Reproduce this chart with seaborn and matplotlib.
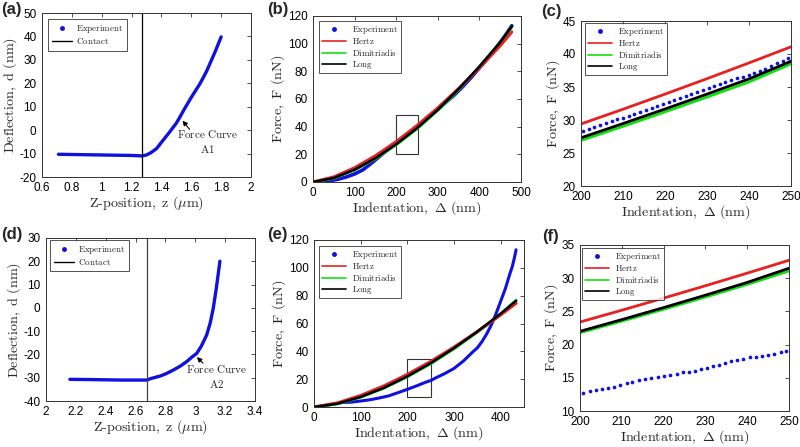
import numpy as np
import pandas as pd
import matplotlib
matplotlib.use("Agg")
import matplotlib.pyplot as plt
from matplotlib.lines import Line2D
from matplotlib.patches import Rectangle
import seaborn as sns

# ---------------- data ----------------
# (a) force curve A1
z_a = [0.71, 0.80, 0.90, 1.00, 1.10, 1.20, 1.27, 1.30, 1.33, 1.367, 1.40, 1.45, 1.50, 1.524,
       1.55, 1.60, 1.658, 1.70, 1.725, 1.76, 1.80]
d_a = [-10.3, -10.4, -10.5, -10.6, -10.7, -10.8, -11.0, -10.6, -9.6, -7.9, -5.2, -1.2, 3.0, 5.6,
       8.6, 14.0, 19.8, 24.8, 28.4, 33.5, 39.8]
contact_a = 1.273

# (d) force curve A2
z_d = [2.16, 2.30, 2.40, 2.50, 2.60, 2.677, 2.70, 2.764, 2.80, 2.853, 2.90, 2.942, 2.98, 3.009,
       3.04, 3.076, 3.10, 3.12, 3.14, 3.165]
d_d = [-30.7, -30.8, -30.9, -31.0, -31.0, -31.0, -30.4, -29.3, -28.4, -26.7, -25.0, -23.1, -21.0, -19.6,
       -16.5, -11.7, -6.5, -0.3, 8.0, 20.0]
contact_d = 2.677

# (b) indentation curve A1
delta_b = [0, 50, 100, 150, 200, 250, 300, 350, 400, 450, 478]
hertz_b = [0, 3.65, 10.3, 18.95, 29.2, 40.8, 53.6, 67.6, 82.5, 98.5, 108.5]
dimi_b = [0, 2.8, 8.7, 16.9, 26.9, 38.5, 51.8, 66.8, 83.2, 100.7, 112.3]
long_b = [0, 2.9, 8.9, 17.2, 27.3, 38.9, 52.2, 67.2, 83.5, 101.0, 112.5]
exp_delta_b = [0, 20, 40, 60, 80, 100, 120, 140, 160, 180, 200, 220, 240, 250, 260, 280, 300,
               320, 340, 360, 380, 400, 420, 440, 460, 478]
exp_force_b = [0, 0.2, 0.9, 2.0, 3.6, 5.8, 8.8, 13.5, 18.5, 23.5, 28.3, 32.7, 37.1, 39.6, 42.3,
               47.5, 52.5, 57.8, 63.0, 69.0, 75.5, 82.5, 89.5, 97.0, 105.0, 113.0]

# (c) zoom of (b)
delta_c = [200, 210, 220, 230, 240, 250]
hertz_c = [29.4, 31.63, 33.92, 36.26, 38.65, 41.09]
dimi_c = [26.9, 29.04, 31.23, 33.47, 35.76, 38.5]
long_c = [27.3, 29.46, 31.66, 33.92, 36.22, 38.9]
exp_delta_c = [200.5, 201.9, 203.2, 204.6, 205.9, 207.3, 208.6, 210.0, 211.4, 212.7, 214.1, 215.4,
               216.8, 218.1, 219.5, 220.9, 222.2, 223.6, 224.9, 226.3, 227.6, 229.0, 230.4, 231.7,
               233.1, 234.4, 235.8, 237.1, 238.5, 239.9, 241.2, 242.6, 243.9, 245.3, 246.6, 248.0, 249.4]
exp_force_c = [28.3, 28.6, 28.9, 29.2, 29.5, 29.8, 30.1, 30.3, 30.6, 30.9, 31.2, 31.5,
               31.8, 32.1, 32.4, 32.7, 33.0, 33.3, 33.6, 33.9, 34.2, 34.5, 34.8, 35.1,
               35.4, 35.7, 36.0, 36.3, 36.5, 36.8, 37.1, 37.5, 37.8, 38.2, 38.6, 39.0, 39.4]

# (e) indentation curve A2
delta_e = [0, 50, 100, 150, 200, 250, 300, 350, 400, 433]
hertz_e = [0, 2.93, 8.27, 15.2, 23.4, 32.7, 43.0, 54.2, 66.2, 74.5]
dimi_e = [0, 2.3, 7.1, 13.6, 21.8, 31.1, 41.9, 53.8, 66.8, 76.6]
long_e = [0, 2.36, 7.21, 13.8, 22.0, 31.5, 42.3, 54.2, 67.1, 76.3]
exp_delta_e = [0, 20, 40, 60, 80, 100, 120, 140, 160, 180, 200, 220, 240, 250, 260, 280, 300,
               320, 340, 350, 360, 370, 380, 390, 400, 410, 420, 425, 430, 433]
exp_force_e = [0, 0.6, 2.0, 3.2, 3.5, 4.3, 5.2, 6.5, 8.0, 10.3, 12.7, 15.2, 17.9, 19.0, 20.8,
               24.0, 27.7, 33.0, 39.5, 42.5, 47.0, 52.5, 59.0, 67.0, 76.0, 85.0, 96.0, 101.0, 108.0, 113.0]

# (f) zoom of (e)
delta_f = [200, 210, 220, 230, 240, 250]
hertz_f = [23.4, 25.18, 27.0, 28.86, 30.76, 32.7]
dimi_f = [21.8, 23.53, 25.32, 27.16, 29.06, 31.1]
long_f = [22.0, 23.76, 25.57, 27.44, 29.36, 31.5]
exp_delta_f = [200.8, 202.4, 203.8, 205.3, 206.8, 208.2, 209.6, 211.2, 212.5, 214.1, 215.6, 217.1,
               218.7, 220.2, 221.6, 223.1, 224.7, 226.1, 227.5, 228.9, 230.4, 231.8, 233.3, 234.7,
               236.1, 237.6, 239.1, 240.6, 242.0, 243.5, 245.0, 246.5, 248.0, 249.4]
exp_force_f = [12.76, 12.96, 13.1, 13.3, 13.46, 13.66, 13.96, 14.27, 14.42, 14.6, 14.8, 14.9,
               15.1, 15.3, 15.4, 15.6, 15.8, 15.9, 16.07, 16.27, 16.48, 16.73, 16.97, 17.23,
               17.48, 17.68, 17.88, 18.08, 18.18, 18.28, 18.48, 18.63, 18.83, 19.03]

legend_ab = ["Experiment", "Contact"]
legend_models = ["Experiment", "Hertz", "Dimitriadis", "Long"]

# ---------------- style ----------------
sns.set_style("white")
plt.rcParams["mathtext.fontset"] = "cm"
plt.rcParams["font.family"] = ["Liberation Sans", "DejaVu Sans"]
plt.rcParams["axes.unicode_minus"] = False

BLUE = "#1010e0"
RED = "#e82020"
GREEN = "#10e010"
BLACK = "black"
SPINE = "0.2"

fig = plt.figure(figsize=(8.0, 4.47), dpi=100)
W, H = 800.0, 447.0


def add_ax(l, t, r, b):
    return fig.add_axes([l / W, 1 - b / H, (r - l) / W, (b - t) / H])


def style_ax(ax, xlim, ylim, xticks, yticks, xlabel, ylabel):
    ax.set_xlim(*xlim)
    ax.set_ylim(*ylim)
    ax.set_xticks(xticks)
    ax.set_yticks(yticks)
    ax.set_xticklabels([f"{t:g}" for t in xticks])
    ax.set_yticklabels([f"{t:g}" for t in yticks])
    ax.tick_params(direction="in", length=3, width=0.6, top=True, right=True,
                   labelsize=8.5, colors=SPINE, labelcolor="black")
    ax.tick_params(axis="x", pad=3.3)
    ax.tick_params(axis="y", pad=4)
    for s in ax.spines.values():
        s.set_color(SPINE)
        s.set_linewidth(0.7)
    ax.set_xlabel(xlabel, fontsize=10.2, labelpad=0.3)
    ax.set_ylabel(ylabel, fontsize=10.2, labelpad=0.5)


XL_Z = r"$\mathrm{Z\text{-}position,\ z\ (}\mu\mathrm{m)}$"
YL_D = r"$\mathrm{Deflection,\ d\ (nm)}$"
XL_I = r"$\mathrm{Indentation,}\ \Delta\ \mathrm{(nm)}$"
YL_F = r"$\mathrm{Force,\ F\ (nN)}$"


def legend_contact(ax, anchor):
    h = [Line2D([], [], color=BLUE, marker="o", ms=2.5, lw=0),
         Line2D([], [], color=BLACK, lw=1.0)]
    lab = [r"$\mathrm{%s}$" % s for s in legend_ab]
    lg = ax.legend(h, lab, loc="upper left", bbox_to_anchor=anchor, borderaxespad=0,
                   fontsize=6.5, frameon=True, fancybox=False, handlelength=2.2,
                   borderpad=0.45, labelspacing=0.15, handletextpad=0.4)
    lg.get_frame().set_edgecolor("0.15")
    lg.get_frame().set_linewidth(0.7)


def legend_models_f(ax, anchor):
    h = [Line2D([], [], color=BLUE, marker="o", ms=2.5, lw=0),
         Line2D([], [], color=RED, lw=1.2),
         Line2D([], [], color=GREEN, lw=1.2),
         Line2D([], [], color=BLACK, lw=1.2)]
    lab = [r"$\mathrm{%s}$" % s for s in legend_models]
    lg = ax.legend(h, lab, loc="upper left", bbox_to_anchor=anchor, borderaxespad=0,
                   fontsize=6.3, frameon=True, fancybox=False, handlelength=2.8,
                   borderpad=0.3, labelspacing=0.08, handletextpad=0.7)
    lg.get_frame().set_edgecolor("0.15")
    lg.get_frame().set_linewidth(0.7)


# ---------- (a) ----------
ax = add_ax(42, 13, 251, 177)
sns.lineplot(x=z_a, y=d_a, ax=ax, color=BLUE, lw=2.4, sort=False)
ax.axvline(contact_a, color=BLACK, lw=0.9)
style_ax(ax, (0.6, 2.0), (-20, 50), [0.6, 0.8, 1, 1.2, 1.4, 1.6, 1.8, 2],
         [-20, -10, 0, 10, 20, 30, 40, 50], XL_Z, YL_D)
ax.annotate("", xy=(1.53, 5.0), xytext=(1.60, -0.6),
            arrowprops=dict(arrowstyle="-|>", color="black", lw=0.8, mutation_scale=7))
ax.text(1.71, -5.0, r"$\mathrm{Force\ Curve}$" + "\n" + r"$\mathrm{A1}$", ha="center", va="center",
        fontsize=8, linespacing=1.3)
legend_contact(ax, (0.029, 0.963))

# ---------- (d) ----------
ax = add_ax(46, 238, 255, 401)
sns.lineplot(x=z_d, y=d_d, ax=ax, color=BLUE, lw=2.4, sort=False)
ax.axvline(contact_d, color="0.25", lw=0.9)
style_ax(ax, (2.0, 3.4), (-40, 30), [2, 2.2, 2.4, 2.6, 2.8, 3, 3.2, 3.4],
         [-40, -30, -20, -10, 0, 10, 20, 30], XL_Z, YL_D)
ax.annotate("", xy=(2.998, -20.3), xytext=(3.065, -24.6),
            arrowprops=dict(arrowstyle="-|>", color="black", lw=0.8, mutation_scale=7))
ax.text(3.14, -29.5, r"$\mathrm{Force\ Curve}$" + "\n" + r"$\mathrm{A2}$", ha="center", va="center",
        fontsize=8, linespacing=1.3)
legend_contact(ax, (0.019, 0.988))

# ---------- (b) ----------
ax = add_ax(313, 16, 521, 182)
sns.lineplot(x=exp_delta_b, y=exp_force_b, ax=ax, color=BLUE, lw=2.6)
sns.lineplot(x=delta_b, y=dimi_b, ax=ax, color=GREEN, lw=2.2)
sns.lineplot(x=delta_b, y=hertz_b, ax=ax, color=RED, lw=2.2)
sns.lineplot(x=delta_b, y=long_b, ax=ax, color=BLACK, lw=1.8)
ax.add_patch(Rectangle((200, 20.5), 53, 28, fill=False, ec="0.2", lw=0.8))
style_ax(ax, (0, 500), (0, 120), [0, 100, 200, 300, 400, 500],
         [0, 20, 40, 60, 80, 100, 120], XL_I, YL_F)
legend_models_f(ax, (0.029, 0.97))

# ---------- (e) ----------
ax = add_ax(314, 240, 524, 407)
sns.lineplot(x=exp_delta_e, y=exp_force_e, ax=ax, color=BLUE, lw=2.2)
sns.lineplot(x=delta_e, y=dimi_e, ax=ax, color=GREEN, lw=2.2)
sns.lineplot(x=delta_e, y=hertz_e, ax=ax, color=RED, lw=2.2)
sns.lineplot(x=delta_e, y=long_e, ax=ax, color=BLACK, lw=1.8)
ax.add_patch(Rectangle((200, 7), 50, 27.5, fill=False, ec="0.2", lw=0.8))
style_ax(ax, (0, 450), (0, 120), [0, 100, 200, 300, 400],
         [0, 20, 40, 60, 80, 100, 120], XL_I, YL_F)
legend_models_f(ax, (0.024, 0.964))

# ---------- (c) ----------
ax = add_ax(581, 21, 791, 186)
sns.lineplot(x=delta_c, y=dimi_c, ax=ax, color=GREEN, lw=2.0)
sns.lineplot(x=delta_c, y=hertz_c, ax=ax, color=RED, lw=2.0)
sns.lineplot(x=delta_c, y=long_c, ax=ax, color=BLACK, lw=2.0)
sns.scatterplot(x=exp_delta_c, y=exp_force_c, ax=ax, color=BLUE, s=7, marker="o", linewidth=0)
style_ax(ax, (200, 250), (20, 45), [200, 210, 220, 230, 240, 250],
         [20, 25, 30, 35, 40, 45], XL_I, YL_F)
legend_models_f(ax, (0.02, 0.988))

# ---------- (f) ----------
ax = add_ax(580, 245, 789, 411)
sns.lineplot(x=delta_f, y=dimi_f, ax=ax, color=GREEN, lw=2.0)
sns.lineplot(x=delta_f, y=hertz_f, ax=ax, color=RED, lw=2.0)
sns.lineplot(x=delta_f, y=long_f, ax=ax, color=BLACK, lw=2.0)
sns.scatterplot(x=exp_delta_f, y=exp_force_f, ax=ax, color=BLUE, s=7, marker="o", linewidth=0)
style_ax(ax, (200, 250), (10, 35), [200, 210, 220, 230, 240, 250],
         [10, 15, 20, 25, 30, 35], XL_I, YL_F)
legend_models_f(ax, (0.01, 0.982))

# ---------- panel labels ----------
for lab, x, y in [("(a)", 1, 2), ("(b)", 267, 2), ("(c)", 541, 4),
                  ("(d)", 1, 227), ("(e)", 267, 227), ("(f)", 542, 229)]:
    fig.text(x / W, 1 - y / H, lab, ha="left", va="top", fontsize=12, fontweight="bold",
             family=["Liberation Sans", "DejaVu Sans"])

fig.savefig("out.png", dpi=100)
